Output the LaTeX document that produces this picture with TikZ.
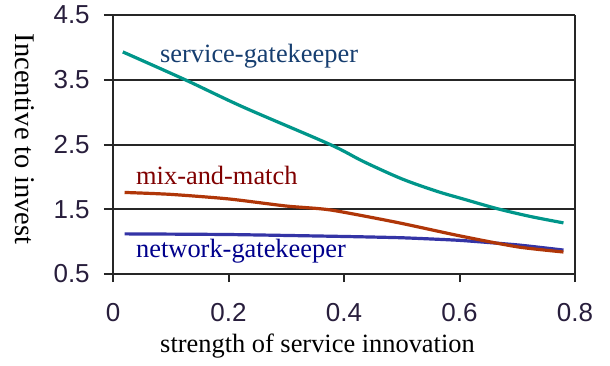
\documentclass[tikz,border=0pt]{standalone}
\usepackage{fontspec}
\setmainfont{Liberation Serif}
\newfontfamily\ticksf{Liberation Sans}
\definecolor{tealc}{RGB}{0,150,138}
\definecolor{redc}{RGB}{176,54,8}
\definecolor{bluec}{RGB}{52,52,166}
\definecolor{svctext}{RGB}{22,62,112}
\definecolor{mixtext}{RGB}{128,0,0}
\definecolor{nettext}{RGB}{0,0,140}
\definecolor{ticktext}{RGB}{40,30,60}
\tikzset{
  gridline/.style={line width=2pt, draw=black!85},
  curve/.style={line width=3.2pt, line join=round},
  ticklab/.style={font=\ticksf\fontsize{26}{28}\selectfont, text=ticktext, inner sep=0pt},
  serlab/.style={font=\fontsize{26.4}{30}\selectfont, inner sep=0pt},
}
\begin{document}
\begin{tikzpicture}[x=1pt,y=1pt]
\useasboundingbox (0,0) rectangle (610,366);
\fill[white] (0,0) rectangle (610,366);
\begin{scope}[shift={(113pt,59.6pt)}, x=577.5pt, y=64.75pt]
  % grid lines
  \foreach \v in {0.5,1.5,2.5,3.5,4.5}
    \draw[gridline] (-0.0156,\v) -- (0.8,\v);
  \draw[gridline] (0,0.376) -- (0,4.5);
  \draw[gridline] (0.8,0.376) -- (0.8,4.5);
  \foreach \t in {0.2,0.4,0.6}
    \draw[gridline] (\t,0.376) -- (\t,0.5);
  % tick labels
  \node[ticklab, anchor=east] (y45) at (-0.04,4.5) {4.5};
  \node[ticklab, anchor=east] (y35) at (-0.04,3.5) {3.5};
  \node[ticklab, anchor=east] (y25) at (-0.04,2.5) {2.5};
  \node[ticklab, anchor=east] (y15) at (-0.04,1.5) {1.5};
  \node[ticklab, anchor=east] (y05) at (-0.04,0.5) {0.5};
  \node[ticklab] (x0) at (0,-0.1) {0};
  \node[ticklab] (x2) at (0.2,-0.1) {0.2};
  \node[ticklab] (x4) at (0.4,-0.1) {0.4};
  \node[ticklab] (x6) at (0.6,-0.1) {0.6};
  \node[ticklab] (x8) at (0.8,-0.1) {0.8};
  % curves
  \draw[curve, tealc] plot[smooth, tension=0.5] coordinates
    {(0.017,3.93) (0.125,3.5) (0.225,3.08) (0.376,2.5) (0.433,2.24) (0.5,1.97) (0.56,1.78) (0.606,1.66) (0.665,1.51) (0.722,1.39) (0.78,1.29)};
  \draw[curve, bluec] plot[smooth, tension=0.3] coordinates
    {(0.02,1.12) (0.2,1.11) (0.4,1.08) (0.5,1.06) (0.6,1.02) (0.7,0.95) (0.78,0.87)};
  \draw[curve, redc] plot[smooth, tension=0.4] coordinates
    {(0.02,1.76) (0.1,1.73) (0.2,1.66) (0.3,1.55) (0.376,1.49) (0.49,1.3) (0.6,1.09) (0.7,0.92) (0.78,0.84)};
\end{scope}
% curve labels
\node[serlab, text=svctext, anchor=base west] (svc) at (160,303) {service-gatekeeper};
\node[serlab, text=mixtext, anchor=base west] (mix) at (136,181) {mix-and-match};
\node[serlab, text=nettext, anchor=base west] (net) at (136,108) {network-gatekeeper};
% axis titles
\node[font=\fontsize{28.5}{30}\selectfont, inner sep=0pt, rotate=-90] (ytitle) at (25,227) {Incentive to invest};
\node[serlab, anchor=base] (xtitle) at (317.5,13) {strength of service innovation};
\end{tikzpicture}
\end{document}
